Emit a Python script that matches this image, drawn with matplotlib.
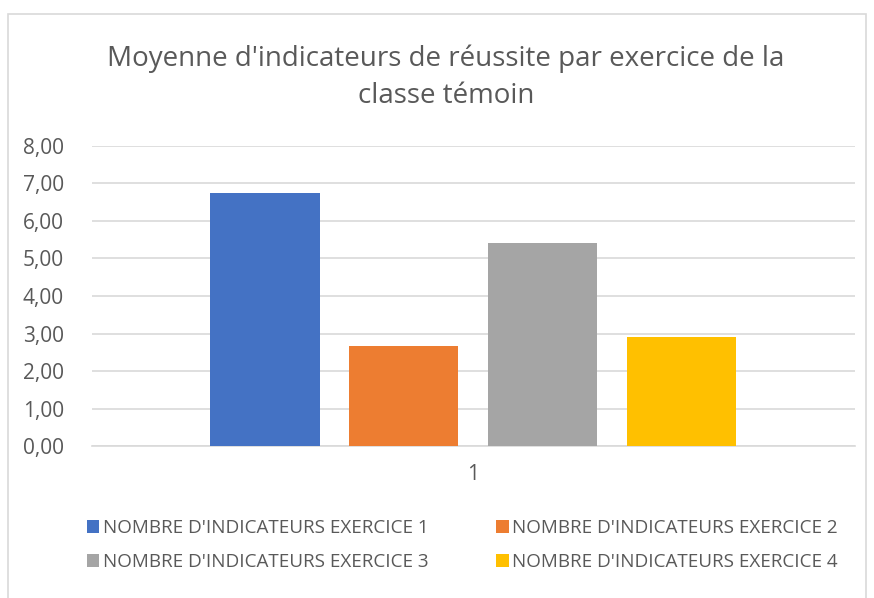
import matplotlib
matplotlib.use("Agg")
import matplotlib.pyplot as plt
from matplotlib.patches import Rectangle

series_names = [
    "NOMBRE D'INDICATEURS EXERCICE 1",
    "NOMBRE D'INDICATEURS EXERCICE 2",
    "NOMBRE D'INDICATEURS EXERCICE 3",
    "NOMBRE D'INDICATEURS EXERCICE 4",
]
values = [6.75, 2.67, 5.41, 2.91]
category = [1]
colors = ["#4472C4", "#ED7D31", "#A5A5A5", "#FFC000"]

title = "Moyenne d'indicateurs de réussite par exercice de la\nclasse témoin"

plt.rcParams["font.family"] = ["Open Sans", "DejaVu Sans"]
text_color = "#595959"

fig = plt.figure(figsize=(8.74, 5.98), dpi=100)
ax = fig.add_axes([0.105, 0.254, 0.873, 0.502])

width = 0.143
step = 0.182
handles = []
for i, (name, val) in enumerate(zip(series_names, values)):
    b = ax.bar(category[0] + (i - 1.5) * step, val, width=width,
               color=colors[i], label=name, zorder=3)
    handles.append(b)

ax.set_xlim(0.5, 1.5)
ax.set_ylim(0, 8)
ax.set_yticks(range(0, 9))
ax.set_yticklabels(["{:.2f}".format(v).replace(".", ",") for v in range(0, 9)],
                   fontsize=15, color=text_color)
ax.set_xticks(category)
ax.set_xticklabels([str(c) for c in category], fontsize=15, color=text_color)
ax.tick_params(axis="both", length=0)
ax.tick_params(axis="x", pad=13)
ax.tick_params(axis="y", pad=20)
ax.grid(axis="y", color="#D9D9D9", linewidth=1.2, zorder=0)
for s in ["top", "right", "left"]:
    ax.spines[s].set_visible(False)
ax.spines["bottom"].set_color("#D9D9D9")
ax.spines["bottom"].set_linewidth(1.2)

fig.text(0.51, 0.871, title, ha="center", va="center", fontsize=20,
         color=text_color, linespacing=1.45)

# legend filled row by row like Excel
order = [0, 2, 1, 3]
fig.legend(handles=[handles[i] for i in order],
           labels=[series_names[i] for i in order], loc="center", ncol=2,
           bbox_to_anchor=(0.529, 0.088), frameon=False, fontsize=13.6,
           labelcolor=text_color, handlelength=0.65, handleheight=0.65,
           handletextpad=0.2, columnspacing=3.6, labelspacing=0.85)

fig.patches.append(Rectangle((8 / 874, -0.05), 858 / 874, 1 - 14 / 598 + 0.05,
                             transform=fig.transFigure, fill=False,
                             edgecolor="#D9D9D9", linewidth=1.2))

fig.savefig("out.png", dpi=100)
